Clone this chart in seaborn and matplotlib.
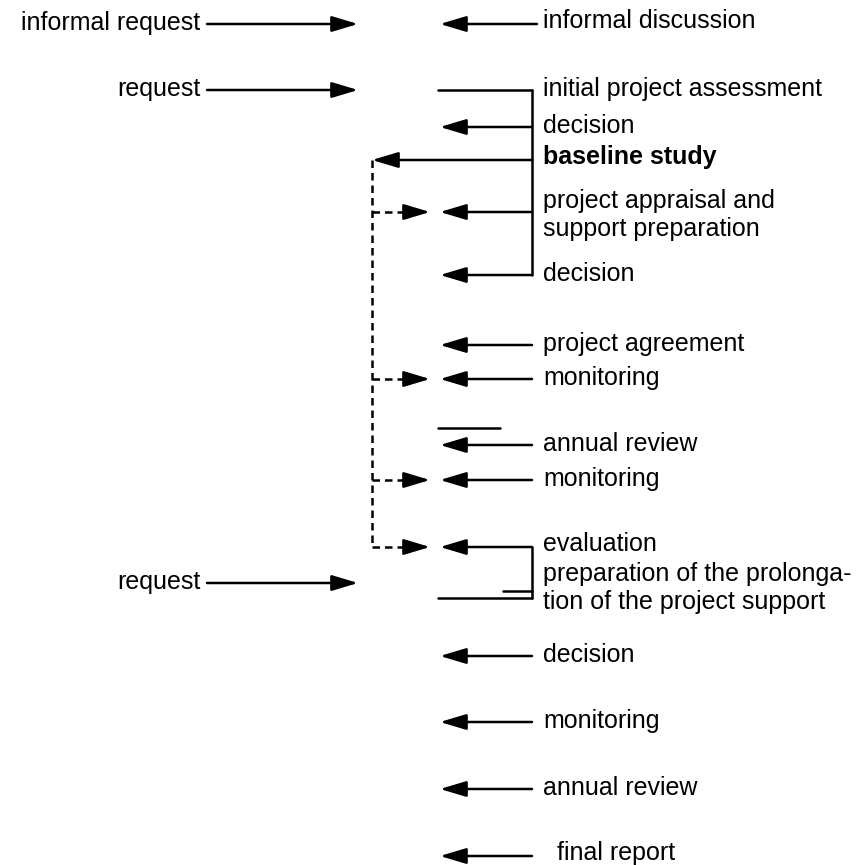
import pandas as pd
import seaborn as sns
import matplotlib.pyplot as plt

# rows of the project cycle (right side, arrows point left)
right_labels = ["informal discussion", "initial project assessment", "decision",
                "baseline study", "project appraisal and", "support preparation",
                "decision", "project agreement", "monitoring", "annual review",
                "monitoring", "evaluation", "preparation of the prolonga-",
                "tion of the project support", "decision", "monitoring",
                "annual review", "final report"]
right_rows = [22, 90, 127, 158, 202, 230, 275, 345, 379, 445, 480, 545, 575,
              603, 656, 722, 789, 854]

# rows that carry a left arrow
arrow_rows = [24, 127, 212, 275, 345, 379, 445, 480, 547, 656, 722, 789, 856]

# requests coming in from the left
left_labels = ["informal request", "request", "request"]
left_rows = [24, 90, 583]

# baseline study feeds these rows (dashed)
baseline_row = 160
dashed_rows = [212, 379, 480, 547]

sns.set_theme(style="white")
plt.rcParams['font.family'] = ['Liberation Sans', 'DejaVu Sans']

fig = plt.figure(figsize=(8.63, 8.65), dpi=100)
ax = fig.add_axes([0, 0, 1, 1])

FS = 18
LW = 1.8
head = "-|>,head_length=1.0,head_width=0.3"

def arrow(x0, x1, y):
    ax.annotate("", xy=(x1, y), xytext=(x0, y),
                arrowprops=dict(arrowstyle=head, lw=LW, color="black",
                                shrinkA=0, shrinkB=0, mutation_scale=16))

# brackets and plain lines
segs = pd.DataFrame({
    "seg": [0, 0, 1, 1, 2, 2, 3, 3, 4, 4, 5, 5],
    "x": [438, 532, 532, 532, 532, 532, 438, 532, 503, 532, 438, 500],
    "y": [90, 90, 90, 275, 547, 598, 598, 598, 591, 591, 428, 428],
})
sns.lineplot(data=segs, x="x", y="y", units="seg", estimator=None, sort=False,
             color="black", lw=LW, ax=ax)

# left arrows of the right column
for y in arrow_rows:
    x0 = 537 if y == 24 else 532
    arrow(x0, 440, y)
arrow(532, 372, baseline_row)

# dashed connections from baseline study
dash = (0, (3, 2))
ax.plot([372, 372], [baseline_row, dashed_rows[-1]], color="black", lw=LW, ls=dash)
for y in dashed_rows:
    ax.plot([372, 410], [y, y], color="black", lw=LW, ls=dash)
    arrow(406, 430, y)

# requests
for lab, y in zip(left_labels, left_rows):
    ax.text(200, y + 6, lab, ha="right", va="baseline", fontsize=FS, color="black")
    arrow(207, 358, y)

for lab, y in zip(right_labels, right_rows):
    x = 557 if lab == "final report" else 543
    w = "bold" if lab == "baseline study" else "normal"
    ax.text(x, y + 6, lab, ha="left", va="baseline", fontsize=FS,
            fontweight=w, color="black")

ax.set_xlim(0, 863)
ax.set_ylim(865, 0)
ax.axis("off")
plt.savefig("out.png", dpi=100)
